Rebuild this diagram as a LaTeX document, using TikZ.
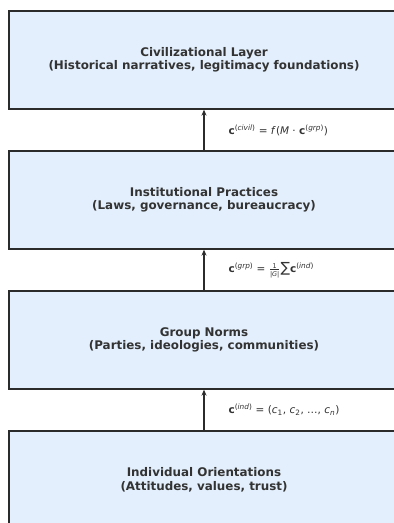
\documentclass[tikz,border=0pt]{standalone}
\usepackage{fontspec}
\setmainfont{DejaVu Sans}
\usetikzlibrary{arrows.meta}
\definecolor{layerfill}{HTML}{E3EFFC}
\definecolor{layerline}{HTML}{2B2B2B}
\definecolor{textgrey}{HTML}{333333}
\newcommand{\vecc}{\textbf{c}}
\newcommand{\upidx}[1]{\textsuperscript{(\textit{#1})}}

\begin{document}
\begin{tikzpicture}[x=1pt, y=-1pt,
  layer/.style={draw=layerline, fill=layerfill, line width=1.3pt,
    minimum width=390pt, minimum height=98pt, align=center,
    font=\bfseries\fontsize{11.9}{13.5}\selectfont, text=textgrey},
  link/.style={-{Stealth[length=6pt,width=5pt]}, line width=1.2pt, draw=layerline},
  formula/.style={anchor=west, font=\fontsize{10.5}{12}\selectfont, text=textgrey}]

  \clip (0,0) rectangle (394,523);
  \fill[white] (0,0) rectangle (394,523);

  \node[layer] (civil) at (204, 60) {Civilizational Layer\\(Historical narratives, legitimacy foundations)};
  \node[layer] (inst) at (204, 200) {Institutional Practices\\(Laws, governance, bureaucracy)};
  \node[layer] (grp) at (204, 340) {Group Norms\\(Parties, ideologies, communities)};
  \node[layer] (ind) at (204, 480) {Individual Orientations\\(Attitudes, values, trust)};

  \draw[link] (inst.north) -- (civil.south);
  \draw[link] (grp.north) -- (inst.south);
  \draw[link] (ind.north) -- (grp.south);

  \node[formula] (fcivil) at (225, 130) {\vecc\upidx{civil} = \textit{f}(\textit{M} · \vecc\upidx{grp})};
  \node[formula] (fgrp) at (225, 270) {\vecc\upidx{grp} = $\frac{\mbox{\fontsize{6.5}{6.5}\selectfont 1}}{\mbox{\fontsize{6.5}{6.5}\selectfont |\textit{G}|}}${\fontsize{14}{14}\selectfont ∑}\vecc\upidx{ind}};
  \node[formula] (find) at (225, 410) {\vecc\upidx{ind} = (\textit{c}\textsubscript{1}, \textit{c}\textsubscript{2}, …, \textit{c}\textsubscript{\textit{n}})};

\end{tikzpicture}
\end{document}
